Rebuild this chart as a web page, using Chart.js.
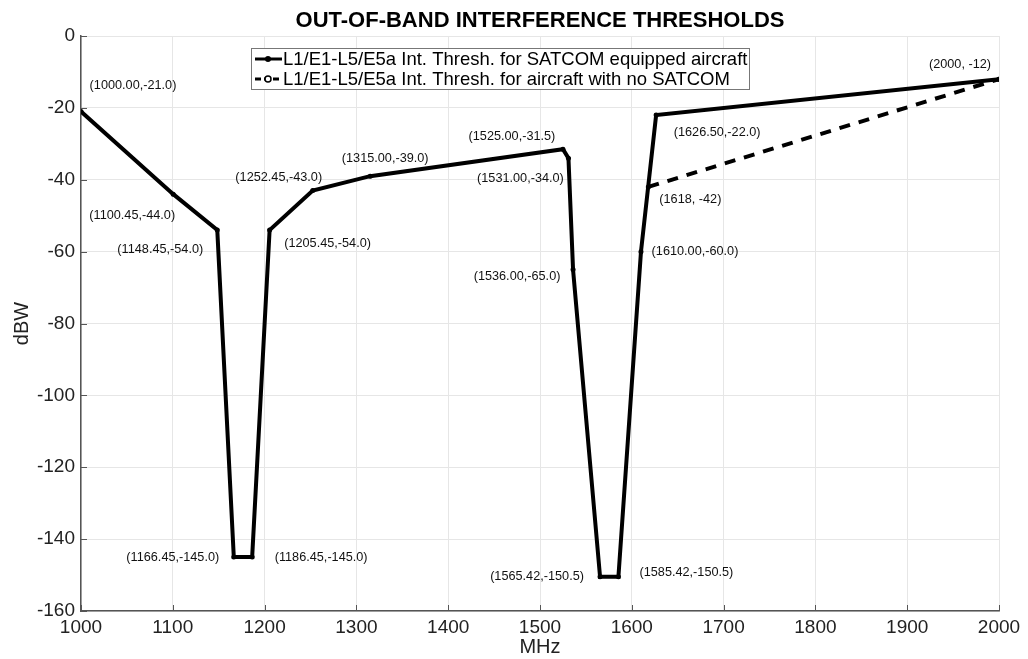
<!DOCTYPE html>
<html>
<head>
<meta charset="utf-8">
<script src="https://cdn.jsdelivr.net/npm/chart.js@4"></script>
<style>
  html, body { margin: 0; padding: 0; background: #fff; }
  #wrap { width: 1028px; height: 659px; }
</style>
</head>
<body>
<div id="wrap"><canvas id="chart" width="1028" height="659"></canvas></div>
<script>
// ─── Data ─────────────────────────────────────────────────────────
const satcomX = [1000, 1100.45, 1148.45, 1166.45, 1186.45, 1205.45, 1252.45, 1315,
                 1525, 1531, 1536, 1565.42, 1585.42, 1610, 1626.5, 2000];
const satcomY = [-21, -44, -54, -145, -145, -54, -43, -39,
                 -31.5, -34, -65, -150.5, -150.5, -60, -22, -12];
const satcomText = ['(1000.00,-21.0)', '(1100.45,-44.0)', '(1148.45,-54.0)', '(1166.45,-145.0)',
                    '(1186.45,-145.0)', '(1205.45,-54.0)', '(1252.45,-43.0)', '(1315.00,-39.0)',
                    '(1525.00,-31.5)', '(1531.00,-34.0)', '(1536.00,-65.0)', '(1565.42,-150.5)',
                    '(1585.42,-150.5)', '(1610.00,-60.0)', '(1626.50,-22.0)', '(2000, -12)'];

const noSatcomX = [1618, 2000];
const noSatcomY = [-42, -12];
const noSatcomText = ['(1618, -42)', ''];

const xTicks = [1000, 1100, 1200, 1300, 1400, 1500, 1600, 1700, 1800, 1900, 2000];
const yTicks = [-160, -140, -120, -100, -80, -60, -40, -20, 0];

const seriesNames = ['L1/E1-L5/E5a Int. Thresh. for SATCOM equipped aircraft',
                     'L1/E1-L5/E5a Int. Thresh. for aircraft with no SATCOM'];
const chartTitle = 'OUT-OF-BAND INTERFERENCE THRESHOLDS';

// label placement (pixel offsets from each point, text centre)
const satcomLabelOffset = [[52, -26], [-41, 21], [-57, 19], [-61, 0], [69, 0], [58, 13], [-34, -13], [15, -18],
                           [-51, -13], [-48, 20], [-56, 7], [-63, 0], [68, -4], [54, 0], [61, 17], [-39, -15]];
const noSatcomLabelOffset = [[42, 13], [0, 0]];

const FONT = '"Liberation Sans", Arial, Helvetica, sans-serif';
const toPoints = (xs, ys) => xs.map((x, i) => ({ x, y: ys[i] }));

// ─── Plugins ──────────────────────────────────────────────────────
const decorations = {
  id: 'decorations',
  afterDraw(chart) {
    const { ctx, chartArea: a, scales: { x, y } } = chart;
    ctx.save();

    // inward tick marks
    ctx.strokeStyle = '#555';
    ctx.lineWidth = 1;
    ctx.beginPath();
    xTicks.forEach(v => { const px = Math.round(x.getPixelForValue(v)) + 0.5; ctx.moveTo(px, a.bottom); ctx.lineTo(px, a.bottom - 6); });
    yTicks.forEach(v => { const py = Math.round(y.getPixelForValue(v)) + 0.5; ctx.moveTo(a.left, py); ctx.lineTo(a.left + 6, py); });
    ctx.stroke();

    // point labels
    ctx.fillStyle = '#111';
    ctx.font = '12.7px ' + FONT;
    ctx.textAlign = 'center';
    ctx.textBaseline = 'middle';
    const drawLabels = (xs, ys, texts, offs) => xs.forEach((v, i) => {
      if (!texts[i]) return;
      ctx.fillText(texts[i], x.getPixelForValue(v) + offs[i][0], y.getPixelForValue(ys[i]) + offs[i][1]);
    });
    drawLabels(satcomX, satcomY, satcomText, satcomLabelOffset);
    drawLabels(noSatcomX, noSatcomY, noSatcomText, noSatcomLabelOffset);

    // title
    ctx.font = 'bold 22px ' + FONT;
    ctx.fillStyle = '#000';
    ctx.fillText(chartTitle, (a.left + a.right) / 2, 21);

    // legend box
    const bx = 251, by = 48, bw = 498, bh = 41;
    ctx.fillStyle = '#fff';
    ctx.fillRect(bx, by, bw, bh);
    ctx.strokeStyle = '#777';
    ctx.lineWidth = 1;
    ctx.strokeRect(bx + 0.5, by + 0.5, bw, bh);
    const rows = [by + 11, by + 31];
    ctx.strokeStyle = '#000';
    ctx.lineWidth = 3;
    ctx.setLineDash([]);
    ctx.beginPath(); ctx.moveTo(255, rows[0]); ctx.lineTo(282, rows[0]); ctx.stroke();
    ctx.beginPath(); ctx.arc(268, rows[0], 3, 0, Math.PI * 2); ctx.fillStyle = '#000'; ctx.fill();
    ctx.setLineDash([6, 3]);
    ctx.beginPath(); ctx.moveTo(255, rows[1]); ctx.lineTo(282, rows[1]); ctx.stroke();
    ctx.setLineDash([]);
    ctx.beginPath(); ctx.arc(268, rows[1], 3, 0, Math.PI * 2); ctx.fillStyle = '#fff'; ctx.fill();
    ctx.lineWidth = 1.5; ctx.stroke();
    ctx.fillStyle = '#000';
    ctx.font = '18.5px ' + FONT;
    ctx.textAlign = 'left';
    ctx.fillText(chart.data.datasets[0].label, 283, rows[0] + 1);
    ctx.fillText(chart.data.datasets[1].label, 283, rows[1] + 1);
    ctx.restore();
  }
};

// ─── Chart ────────────────────────────────────────────────────────
new Chart(document.getElementById('chart'), {
  type: 'line',
  data: {
    datasets: [{
      label: seriesNames[0],
      data: toPoints(satcomX, satcomY),
      borderColor: '#000',
      backgroundColor: '#000',
      borderWidth: 4,
      pointRadius: 2.5,
      pointBackgroundColor: '#000',
      pointBorderWidth: 0,
      tension: 0,
    }, {
      label: seriesNames[1],
      data: toPoints(noSatcomX, noSatcomY),
      borderColor: '#000',
      backgroundColor: '#000',
      borderWidth: 4,
      borderDash: [11, 9],
      pointRadius: 2.5,
      pointBorderWidth: 0,
      tension: 0,
    }],
  },
  options: {
    responsive: false,
    animation: false,
    layout: { padding: { top: 36, right: 29, left: 0, bottom: 0 } },
    plugins: { legend: { display: false }, title: { display: false }, tooltip: { enabled: false } },
    scales: {
      x: {
        type: 'linear',
        min: 1000, max: 2000,
        afterBuildTicks: s => { s.ticks = xTicks.map(v => ({ value: v })); },
        afterFit: s => { s.height = 48; },
        grid: { color: '#e6e6e6', drawTicks: false },
        border: { color: '#555', width: 1.5 },
        ticks: { color: '#222', font: { family: FONT, size: 19 }, padding: 5, maxRotation: 0, callback: v => String(v) },
        title: { display: true, text: 'MHz', color: '#222', font: { family: FONT, size: 20 }, padding: { top: 0, bottom: 0 } },
      },
      y: {
        min: -160, max: 0,
        afterBuildTicks: s => { s.ticks = yTicks.map(v => ({ value: v })); },
        afterFit: s => { s.width = 81; },
        grid: { color: '#e6e6e6', drawTicks: false },
        border: { color: '#555', width: 1.5 },
        ticks: { color: '#222', font: { family: FONT, size: 19 }, padding: 6, callback: v => String(v) },
        title: { display: true, text: 'dBW', color: '#222', font: { family: FONT, size: 20 }, padding: { top: 10, bottom: 0 } },
      },
    },
  },
  plugins: [decorations],
});
</script>
</body>
</html>
